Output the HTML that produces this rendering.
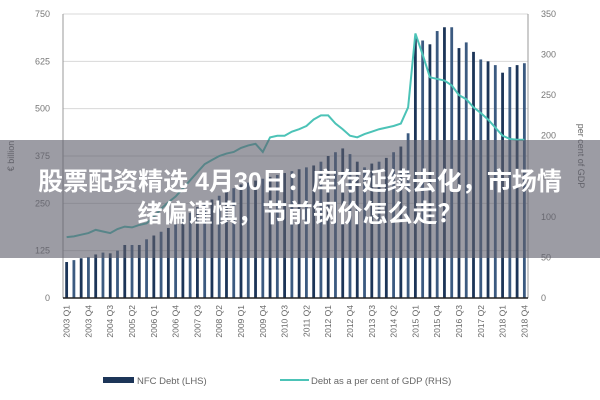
<!DOCTYPE html>
<html><head><meta charset="utf-8"><style>
body{margin:0;background:#fff;width:600px;height:400px;overflow:hidden;font-family:"Liberation Sans","Noto Sans CJK SC",sans-serif;}
#band{position:absolute;left:0;top:140px;width:600px;height:118px;background:rgba(95,95,108,0.62);}
.t{position:absolute;left:0;width:600px;text-align:center;color:#fff;font-weight:bold;font-size:25px;line-height:30px;font-family:"Liberation Sans","Noto Sans CJK SC",sans-serif;white-space:nowrap;}
</style></head><body>
<svg id="chart" width="600" height="400" style="position:absolute;left:0;top:0"></svg>
<div id="band"></div>
<div class="t" style="top:167px">股票配资精选 4月30日：库存延续去化，市场情</div>
<div class="t" style="top:199px">绪偏谨慎，节前钢价怎么走？</div>
<script>
const years=[2003,2004,2005,2006,2007,2008,2009,2010,2011,2012,2013,2014,2015,2016,2017,2018];
const debtValues=[95,100,105,108,115,120,118,125,140,140,140,155,165,175,185,195,210,225,240,250,260,270,280,290,300,305,310,315,320,325,330,335,340,345,350,360,375,385,395,380,360,345,355,360,370,385,400,435,690,680,670,705,715,715,660,675,650,630,625,615,595,610,615,620];
const gdpPctValues=[75,76,78,80,84,82,80,85,88,87,90,92,100,110,118,125,135,145,155,165,170,175,178,180,185,188,190,180,198,200,200,205,208,212,220,225,225,215,208,200,198,202,205,208,210,212,215,235,326,300,272,270,268,262,250,245,235,228,220,210,200,196,195,195];
const leftTicks=[0,125,250,375,500,625,750];
const rightTicks=[0,50,100,150,200,250,300,350];
const categories=[];years.forEach(y=>{for(let q=1;q<=4;q++)categories.push(y+" Q"+q);});
const svg=document.getElementById('chart');const NS='http://www.w3.org/2000/svg';
const X0=63,X1=528,Y0=298,Y1=14;const n=categories.length;const slot=(X1-X0)/n;
const yL=v=>Y0-(v/750)*(Y0-Y1);const yR=v=>Y0-(v/350)*(Y0-Y1);const xC=i=>X0+slot*(i+0.5);
function mk(t,a){const e=document.createElementNS(NS,t);for(const k in a)e.setAttribute(k,a[k]);svg.appendChild(e);return e;}
leftTicks.forEach((v,i)=>{const g=mk('line',{x1:X0,x2:X1,y1:yL(v),y2:yL(v),stroke:'#d8d8d8','stroke-width':1});


const t=mk('text',{x:50,y:yL(v)+3,'text-anchor':'end','font-size':9,fill:'#777'});t.textContent=v;

});
rightTicks.forEach(v=>{const t=mk('text',{x:541,y:yR(v)+3,'font-size':9,fill:'#777'});t.textContent=v;

});
[X0,X1].forEach(x=>{const a=mk('line',{x1:x,x2:x,y1:Y1,y2:Y0,stroke:'#999','stroke-width':1});

});
debtValues.forEach((v,i)=>{const b=mk('rect',{x:xC(i)-1.4,y:yL(v),width:2.8,height:Y0-yL(v),fill:i%2?'#3b5a80':'#1c3558'});

});
const base=mk('line',{x1:X0,x2:X1,y1:Y0,y2:Y0,stroke:'#222','stroke-width':1.5});


const pl=mk('polyline',{points:gdpPctValues.map((v,i)=>xC(i)+','+yR(v)).join(' '),fill:'none',stroke:'#4cc3b7','stroke-width':2});


categories.forEach((c,i)=>{if(i%3)return;const t=mk('text',{transform:`translate(${xC(i)+3},305) rotate(-90)`,'text-anchor':'end','font-size':8.5,fill:'#666'});t.textContent=c;

});
const yt=mk('text',{transform:'translate(14,156) rotate(-90)','text-anchor':'middle','font-size':9,fill:'#666'});yt.textContent='€ billion';


const yt2=mk('text',{transform:'translate(578,156) rotate(90)','text-anchor':'middle','font-size':9,fill:'#666'});yt2.textContent='per cent of GDP';


const l1=mk('rect',{x:103,y:377,width:31,height:6,fill:'#1c3558'});


const lt1=mk('text',{x:137,y:384,'font-size':9.5,fill:'#666'});lt1.textContent='NFC Debt (LHS)';


const l2=mk('line',{x1:280,x2:309,y1:380,y2:380,stroke:'#4cc3b7','stroke-width':2});


const lt2=mk('text',{x:311,y:384,'font-size':9.5,fill:'#666'});lt2.textContent='Debt as a per cent of GDP (RHS)';


</script>
</body></html>
